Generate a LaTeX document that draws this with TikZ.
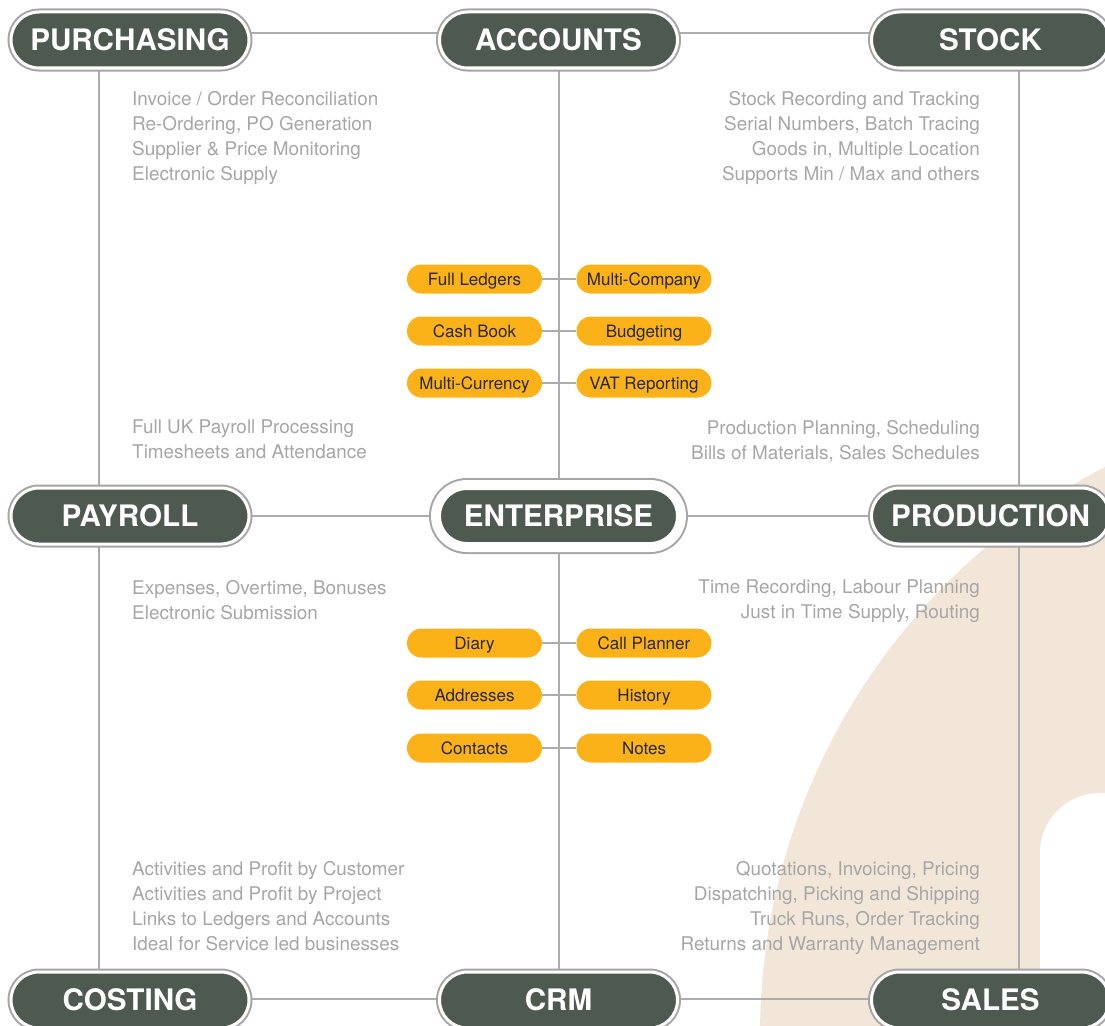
\documentclass[tikz,border=0pt]{standalone}
\usepackage{fontspec}
\setmainfont{TeX Gyre Heros}
\usepackage{xcolor}
\usetikzlibrary{backgrounds}

\definecolor{hdrgreen}{RGB}{78,90,80}
\definecolor{rimgray}{RGB}{165,165,165}
\definecolor{linegray}{RGB}{172,172,172}
\definecolor{descgray}{RGB}{166,166,166}
\definecolor{pillorange}{RGB}{250,178,24}
\definecolor{pilltext}{RGB}{40,40,40}
\definecolor{beige}{RGB}{242,230,216}

\tikzset{
  module/.style={fill=hdrgreen, draw=white, line width=3pt, preaction={draw=rimgray, line width=7pt},
    rounded corners=28pt, minimum width=238pt, minimum height=56pt, inner sep=0pt,
    text=white, font=\fontsize{29.6}{29.6}\selectfont\bfseries},
  hub/.style={fill=hdrgreen, draw=white, line width=10pt, preaction={draw=rimgray, line width=14pt},
    rounded corners=31pt, minimum width=245pt, minimum height=62pt, inner sep=0pt,
    text=white, font=\fontsize{29.6}{29.6}\selectfont\bfseries},
  pill/.style={fill=pillorange, rounded corners=14.5pt, minimum width=135pt, minimum height=29pt,
    inner sep=0pt, text height=12pt, text depth=0pt, text=pilltext, font=\fontsize{17}{17}\selectfont},
  desc/.style={text=descgray, inner sep=0pt, font=\fontsize{18.9}{25}\selectfont},
  link/.style={draw=linegray, line width=2pt}
}

\begin{document}
\begin{tikzpicture}[x=1pt,y=-1pt]
\useasboundingbox (0,0) rectangle (1105,1025);

% backdrop
\begin{scope}[on background layer]
\fill[beige] (1400,1035) circle[radius=640];
\fill[white, rounded corners=60pt] (1040,793) rectangle (1200,1100);
\end{scope}

% modules
\node[module] (purchasing) at (130,40) {PURCHASING};
\node[module] (accounts) at (558.5,40) {ACCOUNTS};
\node[module] (stock) at (990.5,40) {STOCK};
\node[module] (payroll) at (130,516) {PAYROLL};
\node[hub] (enterprise) at (558.5,516) {ENTERPRISE};
\node[module] (production) at (990.5,516) {PRODUCTION};
\node[module] (costing) at (130,1000) {COSTING};
\node[module] (crm) at (558.5,1000) {CRM};
\node[module] (sales) at (990.5,1000) {SALES};

% accounts features
\node[pill] (ledgers) at (474.5,279) {Full Ledgers};
\node[pill] (multico) at (644,279) {Multi-Company};
\node[pill] (cashbook) at (474.5,331) {Cash Book};
\node[pill] (budget) at (644,331) {Budgeting};
\node[pill] (currency) at (474.5,383) {Multi-Currency};
\node[pill] (vat) at (644,383) {VAT Reporting};

% crm features
\node[pill] (diary) at (474.5,643) {Diary};
\node[pill] (callplan) at (644,643) {Call Planner};
\node[pill] (addresses) at (474.5,695) {Addresses};
\node[pill] (history) at (644,695) {History};
\node[pill] (contacts) at (474.5,748) {Contacts};
\node[pill] (notes) at (644,748) {Notes};

% descriptions
\node[desc, anchor=north west, align=left] (purchnotes) at (132,91)
  {Invoice / Order Reconciliation\\Re-Ordering, PO Generation\\Supplier \& Price Monitoring\\Electronic Supply};
\node[desc, anchor=north east, align=right] (stocknotes) at (980,91)
  {Stock Recording and Tracking\\Serial Numbers, Batch Tracing\\Goods in, Multiple Location\\Supports Min / Max and others};
\node[desc, anchor=north west, align=left] (payupnotes) at (132,420)
  {Full UK Payroll Processing\\Timesheets and Attendance};
\node[desc, anchor=north east, align=right] (produpnotes) at (980,420)
  {Production Planning, Scheduling\\Bills of Materials, Sales Schedules};
\node[desc, anchor=north west, align=left] (paydownnotes) at (132,580)
  {Expenses, Overtime, Bonuses\\Electronic Submission};
\node[desc, anchor=north east, align=right] (proddownnotes) at (980,580)
  {Time Recording, Labour Planning\\Just in Time Supply, Routing};
\node[desc, anchor=north west, align=left] (costnotes) at (132,861)
  {Activities and Profit by Customer\\Activities and Profit by Project\\Links to Ledgers and Accounts\\Ideal for Service led businesses};
\node[desc, anchor=north east, align=right] (salesnotes) at (980,861)
  {Quotations, Invoicing, Pricing\\Dispatching, Picking and Shipping\\Truck Runs, Order Tracking\\Returns and Warranty Management};

% connectors
\begin{scope}[on background layer]
\draw[link] ([yshift=7pt]purchasing.east) -- ([yshift=7pt]accounts.west);
\draw[link] ([yshift=7pt]accounts.east) -- ([yshift=7pt]stock.west);
\draw[link] (payroll) -- (enterprise) -- (production);
\draw[link] ([yshift=1pt]costing.east) -- ([yshift=1pt]crm.west);
\draw[link] ([yshift=1pt]crm.east) -- ([yshift=1pt]sales.west);
\draw[link] ([xshift=-31pt]purchasing.south) -- ([xshift=-31pt]payroll.north);
\draw[link] ([xshift=-31pt]payroll.south) -- ([xshift=-31pt]costing.north);
\draw[link] (accounts) -- (enterprise) -- (crm);
\draw[link] ([xshift=28.5pt]stock.south) -- ([xshift=28.5pt]production.north);
\draw[link] ([xshift=28.5pt]production.south) -- ([xshift=28.5pt]sales.north);
\draw[link] (ledgers) -- (multico);
\draw[link] (cashbook) -- (budget);
\draw[link] (currency) -- (vat);
\draw[link] (diary) -- (callplan);
\draw[link] (addresses) -- (history);
\draw[link] (contacts) -- (notes);
\end{scope}
\end{tikzpicture}
\end{document}
